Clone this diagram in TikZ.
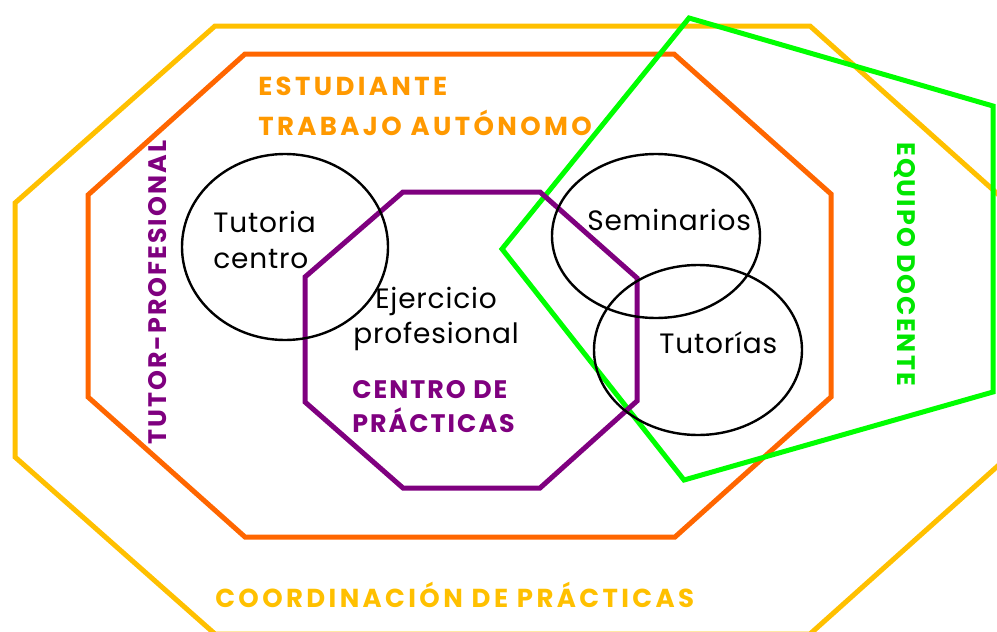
\documentclass[tikz,border=0pt]{standalone}
\usepackage{fontspec}
\setmainfont{Poppins}
\newfontfamily\anchafont{Poppins}[LetterSpace=13]
\newfontfamily\mediafont{Poppins}[LetterSpace=8]
\newfontfamily\finafont{Poppins}[LetterSpace=3]
\usepackage{xcolor}
\definecolor{amarillo}{HTML}{FFC000}
\definecolor{naranja}{HTML}{FF6600}
\definecolor{naranjatxt}{HTML}{FF9900}
\definecolor{morado}{HTML}{7F007F}
\definecolor{verde}{HTML}{00FF00}
\definecolor{verdetxt}{HTML}{00E600}
\tikzset{
  borde/.style={line width=3.75pt, line join=miter},
  burbuja/.style={draw=black, line width=1.8pt},
  texto/.style={inner sep=0pt, anchor=base west, font=\finafont\fontsize{21}{23}\selectfont},
  rotulo/.style={inner sep=0pt, anchor=base west, font=\anchafont\fontsize{19.5}{22}\selectfont\bfseries},
  rotulom/.style={inner sep=0pt, anchor=base west, font=\mediafont\fontsize{19}{22}\selectfont\bfseries}
}
\begin{document}
\begin{tikzpicture}[x=0.75pt,y=-0.75pt]
\useasboundingbox (0,0) rectangle (997,632);
\clip (0,0) rectangle (997,632);
% coordinacion
\draw[borde,amarillo] (215,26) -- (810,26) -- (1010,205) -- (1010,455) -- (810,634) -- (215,634) -- (15,457) -- (15,203) -- cycle;
% estudiante
\draw[borde,naranja] (245,54) -- (674,54) -- (831,194) -- (831,397) -- (675,537) -- (245,537) -- (88,397) -- (88,195) -- cycle;
% equipo docente
\draw[borde,verde] (689,18) -- (993,106) -- (993,392) -- (684,480) -- (502,249) -- cycle;
% centro de practicas
\draw[borde,morado] (403,192) -- (540,192) -- (637,278) -- (637,401) -- (540,488) -- (403,488) -- (305,402) -- (305,277) -- cycle;
% burbujas
\draw[burbuja] (285,247) ellipse (103 and 93);
\draw[burbuja] (656,236) ellipse (104 and 82);
\draw[burbuja] (698,350) ellipse (104 and 85);

\node (tut1) at (213,232) [texto] {Tutoria};
\node (tut2) at (213,268) [texto] {centro};
\node (ej1) at (375,308) [texto] {Ejercicio};
\node (ej2) at (353,343) [texto] {profesional};
\node (sem) at (587,230) [texto] {Seminarios};
\node (tuts) at (659,353) [texto] {Tutorías};

\node (est) at (258,95) [rotulo,text=naranjatxt] {ESTUDIANTE};
\node (trab) at (258,135) [rotulo,text=naranjatxt] {TRABAJO AUTÓNOMO};
\node (cen1) at (352,398) [rotulom,text=morado] {CENTRO DE};
\node (cen2) at (352,432) [rotulom,text=morado] {PRÁCTICAS};
\node (coord) at (215,607) [rotulo,text=amarillo] {COORDINACIÓN DE PRÁCTICAS};
\node (tutprof) at (166,445) [rotulom,text=morado,rotate=90] {TUTOR-PROFESIONAL};
\node (equipo) at (897,142) [rotulom,text=verdetxt,rotate=-90] {EQUIPO DOCENTE};
\end{tikzpicture}
\end{document}
